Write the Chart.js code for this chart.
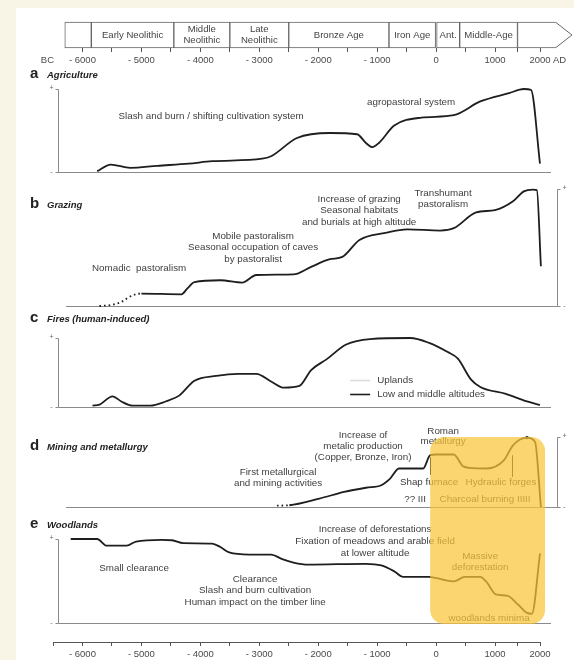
<!DOCTYPE html>
<html>
<head>
<meta charset="utf-8">
<script src="https://cdn.jsdelivr.net/npm/chart.js@4.4.1/dist/chart.umd.min.js"></script>
<style>
  html, body { margin: 0; padding: 0; background: #f8f5e7; }
  #fig { position: relative; width: 574px; height: 660px; overflow: hidden; }
  #sheet { position: absolute; left: 16px; top: 8px; right: 0; bottom: 0; background: #fff; }
  #fig canvas { position: absolute; left: 0; }
</style>
</head>
<body>
<div id="fig"><div id="sheet"></div></div>
<script>
// ---- periods along the top band ----
const periodNames = ['', 'Early Neolithic', 'Middle\nNeolithic', 'Late\nNeolithic', 'Bronze Age', 'Iron Age', 'Ant.', 'Middle-Age', ''];
const periodBounds = [-6300, -5850, -4450, -3500, -2500, -800, 0, 400, 1500, 2355];

// ---- curves, relative level 0 (-) .. 10 (+) ----
const agriYears = [-5750, -5520, -5190, -4730, -4200, -3800, -2950, -2800, -2360, -1800, -1340, -1190, -1085, -970, -710, -250, 300, 750, 1310, 1640, 1800, 2000];
const agriLevel = [0.1, 0.9, 0.5, 0.75, 1.0, 1.3, 1.6, 1.9, 4.1, 4.7, 4.55, 3.5, 3.0, 3.5, 5.6, 6.55, 6.85, 8.5, 9.5, 10, 9.9, 1.0];

const grazYears = [-5712, -5500, -5340, -5230, -5100, -5000, -4320, -4220, -4100, -3660, -3290, -3050, -2420, -2120, -1800, -1590, -1300, -860, -490, 70, 300, 680, 1000, 1400, 1640, 1840, 1930, 2020];
const grazLevel = [0, 0.1, 0.35, 0.7, 1.0, 1.06, 1.0, 1.5, 2.05, 2.2, 2.0, 2.65, 2.7, 3.35, 4.0, 4.2, 5.65, 6.25, 6.55, 6.45, 6.65, 8.0, 8.2, 8.95, 9.8, 9.95, 9.9, 3.4];

const fireYears = [-5830, -5710, -5490, -5340, -5150, -4850, -4590, -4360, -4100, -3730, -3360, -3050, -2800, -2580, -2320, -2120, -1860, -1525, -1120, -440, -120, 190, 370, 590, 750, 1240, 1710, 2000];
const fireLevel = [0.2, 0.35, 1.55, 0.8, 0.2, 0.2, 0.8, 1.65, 3.8, 4.5, 4.8, 4.8, 3.7, 2.8, 3.05, 5.35, 6.9, 9.05, 9.85, 10, 9.3, 8.0, 7.0, 4.0, 2.9, 1.9, 0.8, 0.3];

const mineYears = [-2700, -2490, -1980, -1560, -1190, -930, -780, -630, -220, -100, 0, 300, 460, 630, 860, 1200, 1400, 1710, 1890, 2020];
const mineLevel = [0.2, 0.25, 1.2, 2.15, 2.75, 3.1, 4.05, 5.5, 5.5, 7.4, 7.5, 7.5, 5.8, 5.55, 5.5, 6.7, 8.8, 9.9, 9.3, 0];

const woodYears = [-6200, -5750, -5590, -5250, -5090, -4660, -4480, -4290, -3800, -3660, -3510, -3170, -2800, -2610, -2420, -2170, -1190, -930, -710, -560, -120, 120, 300, 490, 750, 860, 1020, 1270, 1510, 1710, 1820, 2000];
const woodLevel = [10, 10, 9.2, 9.2, 9.7, 9.9, 9.85, 9.5, 9.45, 9.05, 8.4, 8.15, 8.15, 7.6, 7.2, 6.95, 7.05, 6.85, 6.15, 5.5, 5.5, 5.15, 4.95, 5.5, 5.5, 4.85, 3.4, 3.25, 2.2, 1.2, 1.1, 8.3];

const FONT = '"Liberation Sans", Arial, sans-serif';
const INK = '#1e1e1e';
const TEXT = '#3e3e3e';
const FRAME = '#8a8a8a';
const AXIS = '#555';
const NOTE_FONT = '9.8px ' + FONT;
const NOTE_LH = 11.5;

// the time axis runs tighter over the last millennium
const SQUEEZE = 0.763;
const warp = v => v <= 1000 ? v : 1000 + (v - 1000) * SQUEEZE;
const unwarp = w => w <= 1000 ? w : 1000 + (w - 1000) / SQUEEZE;

class EraScale extends Chart.LinearScale {
  getPixelForValue(value) {
    if (value === null || value === undefined) return NaN;
    const a = warp(this.min), b = warp(this.max);
    return this.getPixelForDecimal((warp(value) - a) / (b - a));
  }
  getValueForPixel(pixel) {
    const a = warp(this.min), b = warp(this.max);
    return unwarp(a + this.getDecimalForPixel(pixel) * (b - a));
  }
}
EraScale.id = 'era';
EraScale.defaults = {};
Chart.register(EraScale);

const yearLabel = v => v % 1000 !== 0 ? '' : (v < 0 ? '- ' + Math.abs(v) : String(v));

function timeAxis(show, hideFirst) {
  const axis = {
    type: 'era', min: -6500, max: 2000, display: show,
    border: { display: !hideFirst, color: AXIS, width: 1 },
    grid: {
      drawOnChartArea: false, tickLength: 4,
      color: c => (hideFirst && c.tick && c.tick.value < -6000) ? 'rgba(0,0,0,0)' : AXIS
    },
    ticks: {
      stepSize: 500, autoSkip: false, maxRotation: 0, padding: 3,
      color: '#4a4a4a', font: { family: FONT, size: 9.5 }, callback: yearLabel
    }
  };
  if (show) axis.afterFit = s => { s.height = 18; };
  return axis;
}

function addCanvas(top, height) {
  const c = document.createElement('canvas');
  c.width = 574; c.height = height;
  c.style.top = top + 'px';
  c.style.width = '574px'; c.style.height = height + 'px';
  document.getElementById('fig').appendChild(c);
  return c;
}

// ---- top band: period boxes with an arrow end ----
const periodDecor = {
  id: 'periodDecor',
  afterDatasetsDraw(chart) {
    const ctx = chart.ctx;
    ctx.save();
    ctx.fillStyle = '#444';
    ctx.font = '9.6px ' + FONT;
    ctx.textAlign = 'center';
    ctx.textBaseline = 'middle';
    let last = null;
    chart.data.datasets.forEach((ds, i) => {
      const bar = chart.getDatasetMeta(i).data[0];
      last = bar;
      const lines = periodNames[i].split('\n');
      const cx = (bar.x + bar.base) / 2;
      lines.forEach((ln, k) => ctx.fillText(ln, cx, bar.y + (k - (lines.length - 1) / 2) * 10.5));
    });
    const top = Math.round(last.y - last.height / 2) + 0.5;
    const bot = Math.round(last.y + last.height / 2) - 0.5;
    ctx.strokeStyle = '#666';
    ctx.lineWidth = 1;
    ctx.beginPath();
    ctx.moveTo(last.x, top);
    ctx.lineTo(last.x + 16, (top + bot) / 2);
    ctx.lineTo(last.x, bot);
    ctx.stroke();
    const x = chart.scales.x;
    const ly = x.top + 12.5;
    ctx.font = '9.5px ' + FONT;
    ctx.fillStyle = '#4a4a4a';
    ctx.textAlign = 'right';
    ctx.fillText('BC', x.left + 1, ly);
    ctx.textAlign = 'left';
    ctx.fillText('AD', x.right + 13, ly);
    ctx.restore();
  }
};

new Chart(addCanvas(0, 66), {
  type: 'bar',
  data: {
    labels: ['periods'],
    datasets: periodNames.map((name, i) => ({
      label: name || 'open',
      data: [[periodBounds[i], periodBounds[i + 1]]],
      backgroundColor: '#fff',
      borderColor: '#666',
      borderWidth: 1,
      borderSkipped: i === periodNames.length - 1 ? 'right' : false,
      grouped: false,
      barPercentage: 1,
      categoryPercentage: 1,
      clip: false
    }))
  },
  options: {
    indexAxis: 'y',
    responsive: false,
    animation: false,
    events: [],
    layout: { padding: { left: 53, right: 34, top: 22, bottom: 0 } },
    plugins: { legend: { display: false }, tooltip: { enabled: false } },
    scales: {
      x: timeAxis(true, true),
      y: { type: 'category', display: false }
    }
  },
  plugins: [periodDecor]
});

// ---- panels a-e ----
function roundedBox(ctx, x0, y0, x1, y1, r, roundTop) {
  ctx.beginPath();
  if (roundTop) {
    ctx.moveTo(x0, y1);
    ctx.lineTo(x0, y0 + r);
    ctx.arcTo(x0, y0, x0 + r, y0, r);
    ctx.lineTo(x1 - r, y0);
    ctx.arcTo(x1, y0, x1, y0 + r, r);
    ctx.lineTo(x1, y1);
  } else {
    ctx.moveTo(x0, y0);
    ctx.lineTo(x0, y1 - r);
    ctx.arcTo(x0, y1, x0 + r, y1, r);
    ctx.lineTo(x1 - r, y1);
    ctx.arcTo(x1, y1, x1, y1 - r, r);
    ctx.lineTo(x1, y0);
  }
  ctx.closePath();
}

const panelDecor = {
  id: 'panelDecor',
  beforeDatasetsDraw(chart, args, opts) {
    const { ctx, chartArea: area } = chart;
    const x = chart.scales.x, y = chart.scales.y;
    ctx.save();

    // heading
    ctx.fillStyle = '#222';
    ctx.textBaseline = 'middle';
    ctx.textAlign = 'left';
    ctx.font = 'bold 15px ' + FONT;
    ctx.fillText(opts.letter, 30, opts.headY - 1);
    ctx.font = 'italic bold 9.5px ' + FONT;
    ctx.fillText(opts.title, 47, opts.headY);

    // + / - bracket and baseline
    const top = Math.round(y.getPixelForValue(10)) + 0.5;
    const base = Math.round(y.getPixelForValue(0)) + 0.5;
    const left = opts.side === 'left';
    const ax = left ? area.left + 5.5 : area.right + 17.5;
    const dir = left ? -1 : 1;
    ctx.strokeStyle = FRAME;
    ctx.lineWidth = 1;
    ctx.beginPath();
    ctx.moveTo(ax + dir * 3, top);
    ctx.lineTo(ax, top);
    ctx.lineTo(ax, base);
    ctx.lineTo(ax + dir * 3, base);
    ctx.moveTo(left ? ax : area.left + 13, base);
    ctx.lineTo(left ? area.right + 11 : ax, base);
    ctx.stroke();
    ctx.fillStyle = '#666';
    ctx.font = '7px ' + FONT;
    ctx.textAlign = 'center';
    ctx.fillText('+', ax + dir * 7, top - 1);
    ctx.fillText('-', ax + dir * 7, base);

    // notes
    ctx.fillStyle = TEXT;
    ctx.font = NOTE_FONT;
    (opts.notes || []).forEach(n => {
      const cx = x.getPixelForValue(n.year);
      const cy = y.getPixelForValue(n.value);
      n.lines.forEach((ln, k) => ctx.fillText(ln, cx, cy + k * (n.lh || NOTE_LH)));
    });

    // short vertical markers
    ctx.strokeStyle = INK;
    ctx.lineWidth = 1;
    (opts.marks || []).forEach(m => {
      const mx = Math.round(x.getPixelForValue(m.year)) + 0.5;
      ctx.beginPath();
      ctx.moveTo(mx, y.getPixelForValue(m.from));
      ctx.lineTo(mx, y.getPixelForValue(m.to));
      ctx.stroke();
    });

    // key
    if (opts.key) {
      const kx = x.getPixelForValue(opts.key.year);
      opts.key.rows.forEach(r => {
        const ky = Math.round(y.getPixelForValue(r.value)) + 0.5;
        ctx.strokeStyle = r.color;
        ctx.lineWidth = 1.6;
        ctx.beginPath();
        ctx.moveTo(kx - 27, ky);
        ctx.lineTo(kx - 7, ky);
        ctx.stroke();
        ctx.fillStyle = TEXT;
        ctx.textAlign = 'left';
        ctx.fillText(r.label, kx, ky);
      });
    }
    ctx.restore();
  },
  afterDatasetsDraw(chart, args, opts) {
    const h = opts.highlight;
    if (!h) return;
    const { ctx } = chart;
    const x = chart.scales.x, y = chart.scales.y;
    const x0 = x.getPixelForValue(h.from), x1 = x.getPixelForValue(h.to);
    const y0 = h.roundTop ? y.getPixelForValue(10) : 0;
    const y1 = h.roundTop ? chart.height : y.getPixelForValue(0) + 1;
    ctx.save();
    ctx.fillStyle = 'rgba(250, 197, 55, 0.72)';
    roundedBox(ctx, x0, y0, x1, y1, 14, h.roundTop);
    ctx.fill();
    ctx.restore();
  }
};

function makePanel(p) {
  const height = p.bottom - p.top;
  const yMin = p.axisY ? -10 * (p.axisY - p.zeroY) / (p.zeroY - p.plusY) : 0;
  const chartBottom = p.axisY ? p.axisY : p.zeroY;
  new Chart(addCanvas(p.top, height), {
    type: 'line',
    data: {
      datasets: [{
        label: p.title,
        data: p.years.map((yr, i) => ({ x: yr, y: p.levels[i] })),
        borderColor: INK,
        borderWidth: 1.8,
        pointRadius: p.years.map((yr, i) => i === p.dot ? 1.6 : 0),
        pointBackgroundColor: INK,
        pointBorderWidth: 0,
        fill: false,
        clip: false,
        cubicInterpolationMode: 'monotone',
        segment: {
          borderDash: c => (p.dottedTo !== undefined && c.p1DataIndex <= p.dottedTo) ? [1.6, 3] : undefined
        }
      }]
    },
    options: {
      responsive: false,
      animation: false,
      events: [],
      layout: {
        padding: {
          left: 53, right: 34,
          top: p.plusY - p.top,
          bottom: p.axisY ? p.bottom - p.axisY - 18 : p.bottom - chartBottom
        }
      },
      plugins: {
        legend: { display: false },
        tooltip: { enabled: false },
        panelDecor: {
          letter: p.letter, title: p.title, headY: p.headY - p.top, side: p.side,
          notes: p.notes, marks: p.marks, key: p.key, highlight: p.highlight
        }
      },
      scales: {
        x: timeAxis(!!p.axisY, false),
        y: { type: 'linear', display: false, min: yMin, max: 10 }
      }
    },
    plugins: [panelDecor]
  });
}

makePanel({
  top: 66, bottom: 180, plusY: 89, zeroY: 172, side: 'left',
  letter: 'a', title: 'Agriculture', headY: 75,
  years: agriYears, levels: agriLevel,
  notes: [
    { lines: ['Slash and burn / shifting cultivation system'], year: -3817, value: 6.75 },
    { lines: ['agropastoral system'], year: -424, value: 8.43 }
  ]
});

makePanel({
  top: 180, bottom: 312, plusY: 189, zeroY: 306, side: 'right',
  letter: 'b', title: 'Grazing', headY: 205,
  years: grazYears, levels: grazLevel, dottedTo: 5,
  notes: [
    { lines: ['Nomadic  pastoralism'], year: -5039, value: 3.25 },
    { lines: ['Mobile pastoralism', 'Seasonal occupation of caves', 'by pastoralist'], year: -3105, value: 5.98 },
    { lines: ['Increase of grazing', 'Seasonal habitats', 'and burials at high altitude'], year: -1306, value: 9.15 },
    { lines: ['Transhumant', 'pastoralism'], year: 119, value: 9.66 }
  ]
});

makePanel({
  top: 312, bottom: 414, plusY: 338, zeroY: 407, side: 'left',
  letter: 'c', title: 'Fires (human-induced)', headY: 319,
  years: fireYears, levels: fireLevel,
  key: {
    year: -1000,
    rows: [
      { label: 'Uplands', value: 3.91, color: '#dcdcdc' },
      { label: 'Low and middle altitudes', value: 1.88, color: INK }
    ]
  }
});

makePanel({
  top: 414, bottom: 512, plusY: 437, zeroY: 507, side: 'right',
  letter: 'd', title: 'Mining and metallurgy', headY: 447,
  years: mineYears, levels: mineLevel, dottedTo: 1, dot: 17,
  notes: [
    { lines: ['Roman', 'metallurgy'], year: 119, value: 10.86, lh: 10.5 },
    { lines: ['Increase of', 'metalic production', '(Copper, Bronze, Iron)'], year: -1239, value: 10.29, lh: 11 },
    { lines: ['First metallurgical', 'and mining activities'], year: -2681, value: 5.0, lh: 11 },
    { lines: ['Shap furnace'], year: -119, value: 3.57 },
    { lines: ['Hydraulic forges'], year: 1133, value: 3.57 },
    { lines: ['?? III'], year: -356, value: 1.14 },
    { lines: ['Charcoal burning IIIII'], year: 831, value: 1.14 }
  ],
  marks: [
    { year: -100, from: 7.1, to: 4.6 },
    { year: 1380, from: 7.4, to: 4.3 }
  ],
  highlight: { from: -100, to: 2112, roundTop: true }
});

makePanel({
  top: 512, bottom: 660, plusY: 539, zeroY: 623, axisY: 642, side: 'left',
  letter: 'e', title: 'Woodlands', headY: 525,
  years: woodYears, levels: woodLevel,
  notes: [
    { lines: ['Increase of deforestations', 'Fixation of meadows and arable field', 'at lower altitude'], year: -1035, value: 11.19, lh: 12 },
    { lines: ['Small clearance'], year: -5124, value: 6.55 },
    { lines: ['Clearance', 'Slash and burn cultivation', 'Human impact on the timber line'], year: -3071, value: 5.24 },
    { lines: ['Massive', 'deforestation'], year: 747, value: 7.98 },
    { lines: ['woodlands minima'], year: 899, value: 0.6 }
  ],
  highlight: { from: -100, to: 2112, roundTop: false }
});
</script>
</body>
</html>
